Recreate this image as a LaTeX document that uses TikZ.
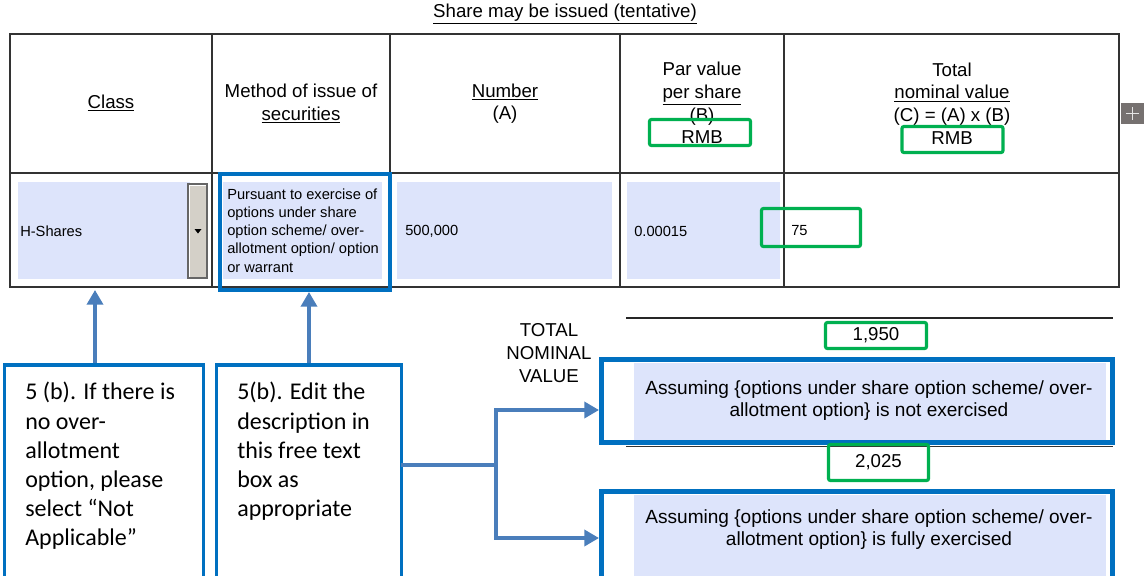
\documentclass[tikz,border=0pt]{standalone}
\usepackage{fontspec}
\setmainfont{Liberation Sans}
\newfontfamily\calibfont{Carlito}
\usetikzlibrary{arrows.meta}
\definecolor{cellblue}{RGB}{221,228,251}
\definecolor{boxblue}{RGB}{0,112,192}
\definecolor{arrblue}{RGB}{74,126,187}
\definecolor{okgreen}{RGB}{0,176,80}
\definecolor{btngray}{RGB}{212,208,200}
\definecolor{plusgray}{RGB}{118,113,112}
\begin{document}
\begin{tikzpicture}[x=0.75pt,y=-0.75pt,
  tline/.style={line width=1.1pt,draw=black!80},
  gbox/.style={draw=okgreen,line width=2.4pt,rounded corners=1.5pt,inner sep=0pt},
  bbox/.style={draw=boxblue,line width=3.75pt,inner sep=0pt},
  callout/.style={draw=boxblue,line width=2.4pt,inner sep=0pt},
  arr/.style={draw=arrblue,line width=2.6pt,-{Triangle[length=11pt,width=12pt]}},
  conn/.style={draw=arrblue,line width=2.6pt,line cap=rect},
  hdr/.style={font=\fontsize{14}{17}\selectfont,align=center,inner sep=0pt},
  cellt/.style={font=\fontsize{11}{13.6}\selectfont,inner sep=0pt,anchor=west,align=left},
  note/.style={font=\calibfont\fontsize{18}{21.9}\selectfont,inner sep=0pt,anchor=north west,align=left},
  assume/.style={font=\fontsize{14.3}{16.5}\selectfont,align=center,inner sep=0pt},
]
\useasboundingbox (0,0) rectangle (1144,575);
\fill[white] (0,0) rectangle (1144,575);

% title
\node[hdr] (title) at (565,14) {\underline{Share may be issued (tentative)}};

% table
\fill[cellblue] (18,182) rectangle (190,279);
\fill[cellblue] (223,182) rectangle (382,279);
\fill[cellblue] (397,182) rectangle (612,279);
\fill[cellblue] (627,182) rectangle (780,279);
\draw[tline] (10,34) rectangle (1119,287);
\draw[tline] (10,173) -- (1119,173);
\foreach \x in {212,390,620,784} \draw[tline] (\x,34) -- (\x,287);

% dropdown button
\draw[fill=btngray,draw=black!60,line width=0.8pt] (188,184) rectangle (207,278);
\draw[white,line width=0.8pt] (189.5,276.5) -- (189.5,185.5) -- (205.5,185.5);
\fill[black] (194.5,229) -- (201.5,229) -- (198,233.5) -- cycle;

% header texts
\node[hdr] (hClass) at (111,103) {\underline{Class}};
\node[hdr] (hMethod) at (301,103.5) {Method of issue of\\\underline{securities}};
\node[hdr] (hNumber) at (505,103.5) {\underline{Number}\\(A)};
\node[hdr] (hPar) at (702,103) {Par value\\\underline{per share}\\(B)\\RMB};
\node[hdr] (hTotal) at (952,103.5) {Total\\\underline{nominal value}\\(C) = (A) x (B)\\RMB};

% row texts
\node[cellt] (tClass) at (20,231) {H-Shares};
\node[cellt] (tMethod) at (227,230.5) {Pursuant to exercise of\\options under share\\option scheme/ over-\\allotment option/ option\\or warrant};
\node[cellt] (tNum) at (405,231) {500,000};
\node[cellt] (tPar) at (634,231) {0.00015};
\node[cellt] (tTot) at (791,231) {75};

% method highlight box
\node[draw=boxblue,line width=3pt,inner sep=0pt,minimum width=127.5pt,minimum height=87pt] (mbox) at (305,232) {};

% green boxes in table
\node[gbox,minimum width=75.75pt,minimum height=19.5pt] (gPar) at (700,132.5) {};
\node[gbox,minimum width=75.75pt,minimum height=19.5pt] (gTot) at (952.5,139.5) {};
\node[gbox,minimum width=74.25pt,minimum height=28.5pt] (g75) at (811,227.5) {};

% plus button
\fill[plusgray] (1121,103) rectangle (1144,124);
\draw[black!10,line width=1.2pt] (1126,113.5) -- (1139,113.5) (1132.5,107) -- (1132.5,120);

% total nominal value area
\draw[line width=1.1pt,black!85] (626,318) -- (1113,318);
\node[hdr] (totlab) at (549,353) {TOTAL\\NOMINAL\\VALUE};
\node[gbox,font=\fontsize{14}{17}\selectfont,minimum width=75.75pt,minimum height=19.5pt] (g1950) at (876,335.5) {1,950};

\draw[line width=1.1pt,black!80] (626,446.5) -- (1113,446.5);
\fill[cellblue] (634,363) rectangle (1106,442);
\node[bbox,minimum width=383.25pt,minimum height=62.25pt] (boxA) at (857,401) {};
\node[assume] (txtA) at (869,401) {Assuming \{options under share option scheme/ over-\\allotment option\} is not exercised};
\node[gbox,font=\fontsize{14}{17}\selectfont,minimum width=75pt,minimum height=27pt] (g2025) at (878.5,462.5) {2,025};

\fill[cellblue] (634,495) rectangle (1106,580);
\node[bbox,minimum width=383.25pt,minimum height=81.4pt] (boxB) at (857,545.75) {};
\node[assume] (txtB) at (869,530) {Assuming \{options under share option scheme/ over-\\allotment option\} is fully exercised};

% callouts
\node[callout,minimum width=149.7pt,minimum height=176.25pt] (cb1) at (104,482.5) {};
\node[callout,minimum width=138.3pt,minimum height=176.25pt] (cb2) at (309,482.5) {};
\node[note] (n1) at (25,382) {5 (b). If there is\\no over-\\allotment\\option, please\\select “Not\\Applicable”};
\node[note] (n2) at (237,382) {5(b). Edit the\\description in\\this free text\\box as\\appropriate};

% connectors
\coordinate (clsb) at (95,290);
\draw[arr] (cb1.north -| clsb) -- (clsb);
\draw[arr] (cb2.north) -- (cb2.north |- mbox.south);
\coordinate (jn) at (496,465);
\coordinate (inA) at (599,410);
\coordinate (inB) at (599,538);
\draw[conn] (cb2.east |- jn) -- (jn);
\draw[arr] (jn) |- (inA);
\draw[arr] (jn) |- (inB);
\end{tikzpicture}
\end{document}
